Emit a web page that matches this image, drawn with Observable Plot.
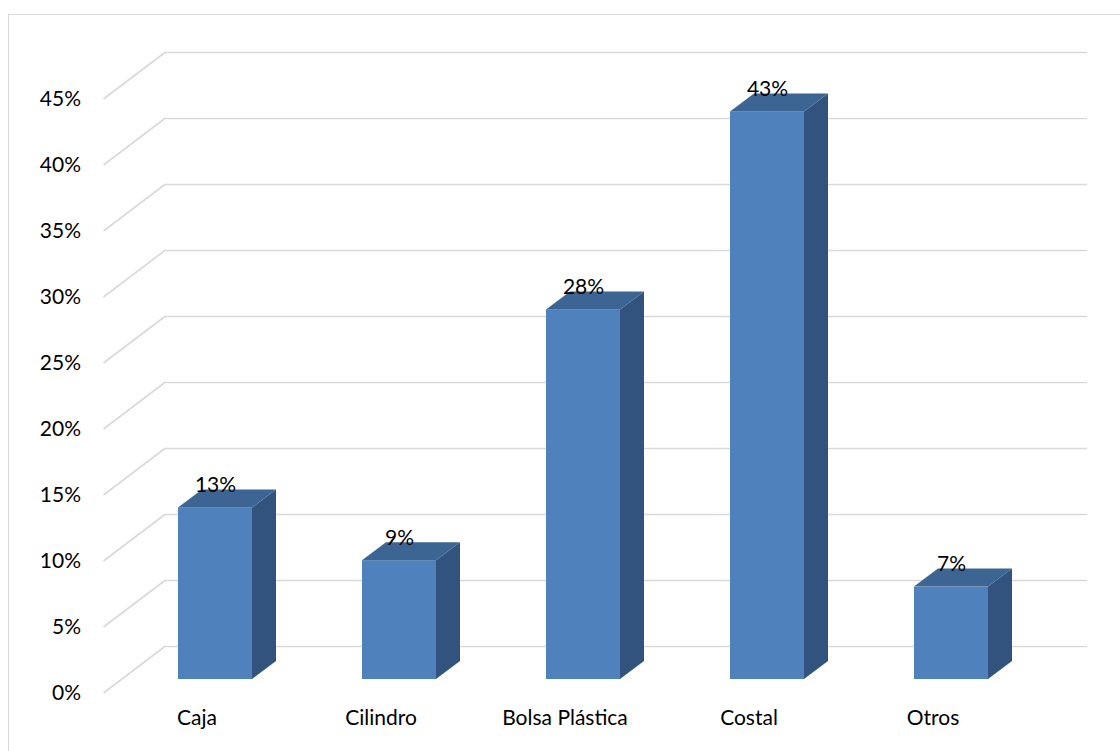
<!DOCTYPE html>
<html>
<head>
<meta charset="utf-8">
<script src="https://cdn.jsdelivr.net/npm/d3@7"></script>
<script src="https://cdn.jsdelivr.net/npm/@observablehq/plot@0.6"></script>
<style>
  body { margin: 0; background: #fff; }
  #chart { position: relative; width: 1120px; height: 751px; overflow: hidden; background: #fff; }
  #chart svg { position: absolute; left: 0; top: 0; }
  #border { position: absolute; left: 8px; top: 14px; width: 2000px; height: 2000px;
            border-left: 1.5px solid #d9d9d9; border-top: 1.5px solid #d9d9d9; }
</style>
</head>
<body>
<div id="chart"><div id="border"></div></div>
<script>
// Tipo de envase utilizado (porcentaje)
const categories = ["Caja", "Cilindro", "Bolsa Plástica", "Costal", "Otros"];
const values = [13, 9, 28, 43, 7];
const yTicks = [0, 5, 10, 15, 20, 25, 30, 35, 40, 45];

const data = categories.map((c, i) => ({tipo: c, pct: values[i]}));

// oblique projection offsets (px) relative to the plane of the bar fronts
const frontPlane = {dx: -18.5, dy: 14};
const backPlane = {dx: 43.5, dy: -33};
const barDepth = {dx: 24, dy: -18};

const colors = {front: "#4f81bd", top: "#3c6593", side: "#31537e", grid: "#d9d9d9"};
const font = "Lato, 'Open Sans', sans-serif";

const chart = Plot.plot({
  width: 1120,
  height: 751,
  marginLeft: 122,
  marginRight: 76.5,
  marginTop: 85,
  marginBottom: 72,
  style: {fontFamily: font, fontSize: "21px", color: "#000", background: "transparent", overflow: "visible"},
  x: {type: "band", domain: categories, paddingInner: 0.6, paddingOuter: 0.3, axis: null},
  y: {domain: [0, 45], axis: null},
  marks: [
    // back wall gridlines
    Plot.ruleY(yTicks, {dx: backPlane.dx, dy: backPlane.dy, stroke: colors.grid, strokeWidth: 1.6}),
    // value axis labels on the front plane
    Plot.text(yTicks, {y: d => d, text: d => d + "%", frameAnchor: "left", textAnchor: "end",
      dx: -41.5, dy: frontPlane.dy, fill: "#000", fontSize: 21}),
    // category labels on the front plane
    Plot.text(categories, {x: d => d, text: d => d, frameAnchor: "bottom",
      dx: frontPlane.dx, dy: 45, fill: "#000", fontSize: 21}),
    // bar front faces
    Plot.barY(data, {x: "tipo", y: "pct", fill: colors.front}),
    // data labels
    Plot.text(data, {x: "tipo", y: "pct", text: d => d.pct + "%", lineAnchor: "bottom",
      dy: -16, fill: "#000", fontSize: 21})
  ]
});

document.getElementById("chart").appendChild(chart);

// 3D pieces drawn from the plot's own scales
const sx = chart.scale("x");
const sy = chart.scale("y");
const svg = d3.select(chart);
const x0 = sx.range[0];

// floor-to-wall diagonals of the gridlines
const diag = svg.insert("g", ":scope > g");
diag.selectAll("line").data(yTicks).join("line")
  .attr("x1", x0 + frontPlane.dx).attr("y1", d => sy.apply(d) + frontPlane.dy)
  .attr("x2", x0 + backPlane.dx).attr("y2", d => sy.apply(d) + backPlane.dy)
  .attr("stroke", colors.grid).attr("stroke-width", 1.6);

// top and side faces of every bar
const faces = svg.insert("g", ":scope > g:last-of-type");
const w = sx.bandwidth;
const poly = pts => pts.map(p => p.join(",")).join(" ");
data.forEach(d => {
  const xl = sx.apply(d.tipo), xr = xl + w;
  const yt = sy.apply(d.pct), yb = sy.apply(0);
  const ox = barDepth.dx, oy = barDepth.dy;
  faces.append("polygon")
    .attr("points", poly([[xr, yt], [xr + ox, yt + oy], [xr + ox, yb + oy], [xr, yb]]))
    .attr("fill", colors.side);
  faces.append("polygon")
    .attr("points", poly([[xl, yt], [xl + ox, yt + oy], [xr + ox, yt + oy], [xr, yt]]))
    .attr("fill", colors.top);
});
</script>
</body>
</html>
